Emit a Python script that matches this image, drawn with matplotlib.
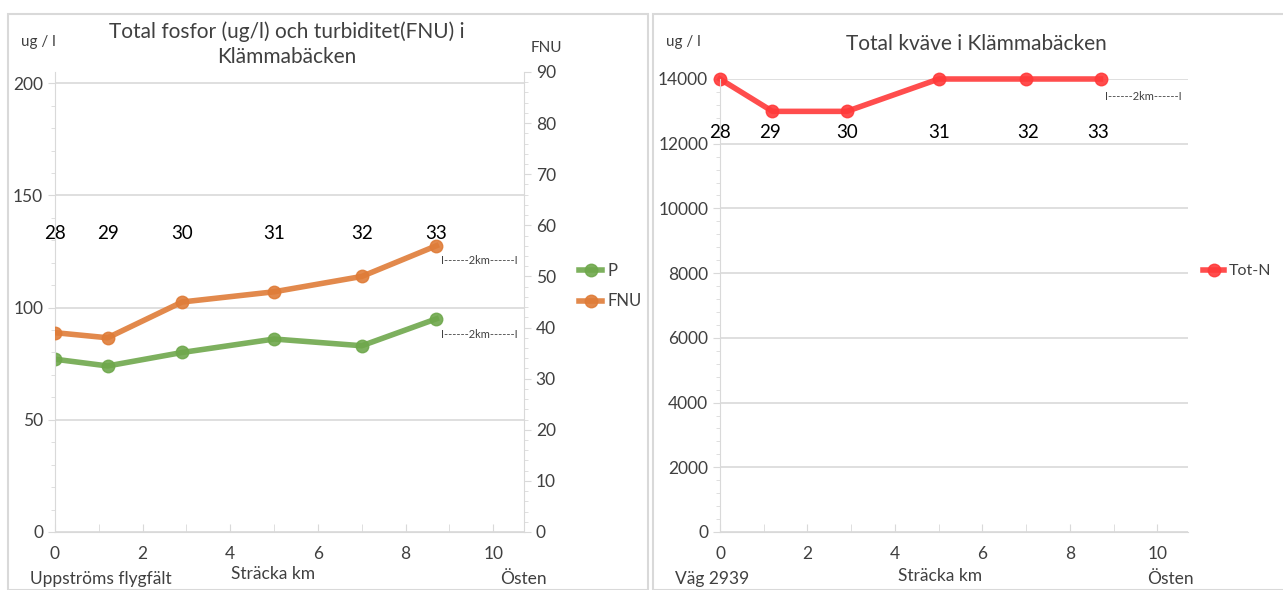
import matplotlib
matplotlib.use("Agg")
import matplotlib.pyplot as plt
from matplotlib.patches import Rectangle
from matplotlib.ticker import MultipleLocator

plt.rcParams['font.family'] = ['Lato', 'DejaVu Sans']

# sträcka (km) för provpunkterna 28-33
km = [0, 1.2, 2.9, 5.0, 7.0, 8.7]
punkter = ['28', '29', '30', '31', '32', '33']
# vänster diagram
fosfor = [77, 74, 80, 86, 83, 95]       # ug/l
fnu = [39, 38, 45, 47, 50, 56]          # FNU
# höger diagram
kvave = [14000, 13000, 13000, 14000, 14000, 14000]  # ug/l

# lägen för punktnummer (km)
km_p1 = [0, 1.2, 2.9, 5.0, 7.0, 8.7]
km_p2 = [0, 1.15, 2.9, 5.0, 7.05, 8.65]

gron = "#6fa84c"
orange = "#df7c38"
rod = "#ff3a3a"
grid_c = "#d9d9d9"
txt = "#404040"

fig = plt.figure(figsize=(12.83, 5.90), dpi=100)

# ramar runt diagrammen
fig.patches.append(Rectangle((8 / 1283, 0), 640 / 1283, 1 - 14 / 590, transform=fig.transFigure,
                             fill=False, edgecolor="#d9d9d9", linewidth=1.5))
fig.patches.append(Rectangle((653 / 1283, 0), 640 / 1283, 1 - 14 / 590, transform=fig.transFigure,
                             fill=False, edgecolor="#d9d9d9", linewidth=1.5))


def style_axes(ax):
    for s in ["top", "right"]:
        ax.spines[s].set_visible(False)
    ax.spines["left"].set_color(grid_c)
    ax.spines["bottom"].set_color(grid_c)
    ax.grid(True, axis="y", color=grid_c, linewidth=1.2)
    ax.set_axisbelow(True)
    ax.set_xlim(0, 10.7)
    ax.xaxis.set_major_locator(MultipleLocator(2))
    ax.xaxis.set_minor_locator(MultipleLocator(1))
    ax.tick_params(axis="both", which="both", colors=grid_c, labelcolor=txt, labelsize=12.5)
    ax.tick_params(axis="x", which="both", length=6, direction="in", pad=10)
    ax.tick_params(axis="y", which="major", length=5, direction="out")
    ax.tick_params(axis="y", which="minor", length=3, direction="out")


# ---------- vänster: fosfor och turbiditet ----------
ax1 = fig.add_axes([55 / 1283, 1 - 532 / 590, 469 / 1283, 460 / 590])
style_axes(ax1)
ax1.set_ylim(0, 205)
ax1.yaxis.set_major_locator(MultipleLocator(50))
ax1.yaxis.set_minor_locator(MultipleLocator(10))
l1, = ax1.plot(km, fosfor, color=gron, linewidth=4, marker="o", markersize=9, alpha=0.9,
               label="P")

ax2 = ax1.twinx()
ax2.set_ylim(0, 90)
for s in ["top", "left", "bottom"]:
    ax2.spines[s].set_visible(False)
ax2.spines["right"].set_color(grid_c)
ax2.yaxis.set_major_locator(MultipleLocator(10))
ax2.yaxis.set_minor_locator(MultipleLocator(2))
ax2.tick_params(axis="y", which="both", colors=grid_c, labelcolor=txt, labelsize=12.5)
ax2.tick_params(axis="y", which="major", length=5)
ax2.tick_params(axis="y", which="minor", length=3)
l2, = ax2.plot(km, fnu, color=orange, linewidth=4, marker="o", markersize=9, alpha=0.9,
               label="FNU")

for xk, p in zip(km_p1, punkter):
    ax1.text(xk, 133, p, fontsize=13.5, ha="center", va="center", color="black")
ax1.text(8.8, 121, "I------2km------I", fontsize=8, ha="left", va="center", color=txt)
ax1.text(8.8, 88, "I------2km------I", fontsize=8, ha="left", va="center", color=txt)

fig.legend(handles=[l1, l2], loc="center left", bbox_to_anchor=(564 / 1283, 1 - 286 / 590),
           frameon=False, fontsize=12, handlelength=1.4, labelspacing=0.9,
           handletextpad=0.3, labelcolor=txt)

fig.text(287 / 1283, 1 - 44 / 590, "Total fosfor (ug/l) och turbiditet(FNU) i\nKlämmabäcken",
         ha="center", va="center", fontsize=15, color=txt, linespacing=1.3)
fig.text(38 / 1283, 1 - 42 / 590, "ug / l", ha="center", va="center", fontsize=11, color=txt)
fig.text(546 / 1283, 1 - 48 / 590, "FNU", ha="center", va="center", fontsize=11, color=txt)
fig.text(30 / 1283, 1 - 579 / 590, "Uppströms flygfält", ha="left", va="center",
         fontsize=12.5, color=txt)
fig.text(273 / 1283, 1 - 574 / 590, "Sträcka km", ha="center", va="center",
         fontsize=12.5, color=txt)
fig.text(523 / 1283, 1 - 579 / 590, "Östen", ha="center", va="center", fontsize=12.5, color=txt)

# ---------- höger: kväve ----------
ax3 = fig.add_axes([720 / 1283, 1 - 532 / 590, 468 / 1283, 453 / 590])
style_axes(ax3)
ax3.set_ylim(0, 14000)
ax3.yaxis.set_major_locator(MultipleLocator(2000))
ax3.yaxis.set_minor_locator(MultipleLocator(400))
l3, = ax3.plot(km, kvave, color=rod, linewidth=4, marker="o", markersize=9, alpha=0.9,
               label="Tot-N", clip_on=False)
for xk, p in zip(km_p2, punkter):
    ax3.text(xk, 12350, p, fontsize=13.5, ha="center", va="center", color="black")
ax3.text(8.8, 13470, "I------2km------I", fontsize=8, ha="left", va="center", color=txt)

fig.legend(handles=[l3], loc="center left", bbox_to_anchor=(1200 / 1283, 1 - 271 / 590),
           frameon=False, fontsize=11.5, handlelength=1.3, handletextpad=0.3, labelcolor=txt,
           borderaxespad=0, borderpad=0.2)

fig.text(976 / 1283, 1 - 44 / 590, "Total kväve i Klämmabäcken", ha="center", va="center",
         fontsize=15, color=txt)
fig.text(683 / 1283, 1 - 42 / 590, "ug / l", ha="center", va="center", fontsize=11, color=txt)
fig.text(675 / 1283, 1 - 579 / 590, "Väg 2939", ha="left", va="center", fontsize=12.5, color=txt)
fig.text(940 / 1283, 1 - 576 / 590, "Sträcka km", ha="center", va="center",
         fontsize=12.5, color=txt)
fig.text(1170 / 1283, 1 - 579 / 590, "Östen", ha="center", va="center", fontsize=12.5, color=txt)

fig.savefig("out.png", dpi=100)
